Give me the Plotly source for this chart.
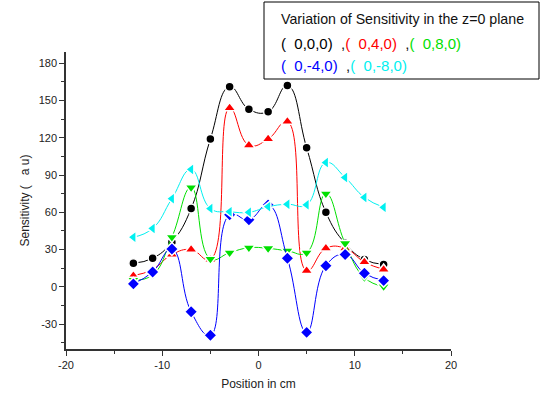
import plotly.graph_objects as go

positions = [-13, -11, -9, -7, -5, -3, -1, 1, 3, 5, 7, 9, 11, 13]
s_000 = [19, 23, 36, 63, 119, 161, 143, 141, 162, 112, 60, 35, 22, 18]
s_040 = [9, 14, 26, 30, 22, 144, 114, 119, 133, 13, 31, 31, 20, 14]
s_080 = [5.6, 9.6, 40, 80, 22.5, 27.5, 31.5, 31, 29, 27.5, 75, 35, 7.5, 0.3]
s_0m40 = [2.4, 12, 30.5, -20, -39, 58, 54, 66, 23, -36.6, 17, 26, 11, 5]
s_0m80 = [40, 47, 71, 94.5, 63, 60.5, 60, 64.5, 66.5, 66, 100, 88, 72, 64]

x_ticks = [-20, -10, 0, 10, 20]
y_ticks = [-30, 0, 30, 60, 90, 120, 150, 180]

series = [
    ("( 0,0,0)", s_000, "#000000", "circle", 9),
    ("( 0,4,0)", s_040, "#ff0000", "triangle-up", 11),
    ("( 0,8,0)", s_080, "#00e000", "triangle-down", 11),
    ("( 0,-4,0)", s_0m40, "#0000ff", "diamond", 10),
    ("( 0,-8,0)", s_0m80, "#00f0f0", "triangle-left", 11),
]

W, H = 543, 399
L, R, T, B = 66, 451, 52, 349

fig = go.Figure()
for name, ys, col, sym, sz in series:
    fig.add_trace(go.Scatter(
        x=positions, y=ys, name=name, mode="lines+markers",
        line=dict(color=col, width=1, shape="spline", smoothing=1.3),
        marker=dict(symbol=sym, size=sz, color=col,
                    line=dict(color="white", width=1.5)),
        showlegend=False,
    ))

font = "Liberation Sans, Arial, sans-serif"
fig.update_layout(
    width=W, height=H,
    margin=dict(l=L, r=W - R, t=T, b=H - B),
    paper_bgcolor="white", plot_bgcolor="white",
    font=dict(family=font, size=11, color="#222"),
    xaxis=dict(
        range=[-20, 20], tickmode="array", tickvals=x_ticks,
        ticktext=[str(v) for v in x_ticks],
        ticks="outside", ticklen=5, tickwidth=1, tickcolor="#333",
        minor=dict(dtick=5, tick0=-20, ticks="outside", ticklen=3, tickcolor="#333"),
        showline=True, linecolor="#333", linewidth=1.5,
        showgrid=False, zeroline=False, automargin=False,
        title=dict(text="Position in cm", font=dict(size=12, color="#222"), standoff=10),
    ),
    yaxis=dict(
        range=[-50, 189], tickmode="array", tickvals=y_ticks,
        ticktext=[str(v) for v in y_ticks],
        ticks="outside", ticklen=5, tickwidth=1, tickcolor="#333",
        minor=dict(dtick=15, tick0=0, ticks="outside", ticklen=3, tickcolor="#333"),
        showline=True, linecolor="#333", linewidth=1.5,
        showgrid=False, zeroline=False, automargin=False,
        title=dict(text="Sensitivity (   a u)", font=dict(size=12, color="#222"), standoff=6),
    ),
)

def px(xp):
    return (xp - L) / (R - L)

def py(yp):
    return (B - yp) / (B - T)

fig.add_shape(type="rect", xref="paper", yref="paper",
              x0=px(264), x1=px(539), y0=py(79), y1=py(2),
              line=dict(color="black", width=1), fillcolor="white", layer="above")

lines = [
    "Variation of Sensitivity in the z=0 plane",
    "<span style='color:#000'>(  0,0,0)</span>  ,"
    "<span style='color:#ff0000'>(  0,4,0)</span>  ,"
    "<span style='color:#00e000'>(  0,8,0)</span>",
    "<span style='color:#0000ff'>(  0,-4,0)</span>  ,"
    "<span style='color:#00f0f0'>(  0,-8,0)</span>",
]
ys_text = [19, 43, 65]
sizes = [14.2, 15, 15]
for t, yy, fs in zip(lines, ys_text, sizes):
    fig.add_annotation(xref="paper", yref="paper", x=px(279), y=py(yy),
                       xanchor="left", yanchor="middle", showarrow=False,
                       text=t.replace("  ", "&nbsp;&nbsp;"),
                       font=dict(family=font, size=fs, color="#111"))

fig.write_html("out.html")
